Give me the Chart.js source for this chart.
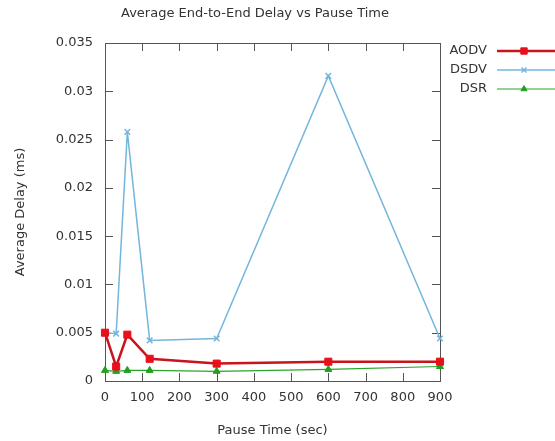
<!DOCTYPE html>
<html>
<head>
<meta charset="utf-8">
<script src="https://cdn.jsdelivr.net/npm/chart.js@4"></script>
<style>
  html, body { margin: 0; padding: 0; background: #fff; }
  #wrap { width: 555px; height: 441px; }
</style>
</head>
<body>
<div id="wrap"><canvas id="grafica"></canvas></div>
<script>
// Datos (retardo medio en ms por tiempo de pausa)
const tiemposPausa = [0, 30, 60, 120, 300, 600, 900];
const retardoAODV = [0.0050, 0.0015, 0.0048, 0.0023, 0.0018, 0.0020, 0.0020];
const retardoDSDV = [0.0050, 0.0049, 0.0258, 0.0042, 0.0044, 0.0316, 0.0044];
const retardoDSR = [0.0011, 0.0010, 0.0011, 0.0011, 0.0010, 0.0012, 0.0015];

const ticksX = [0, 100, 200, 300, 400, 500, 600, 700, 800, 900];
const ticksY = [0, 0.005, 0.01, 0.015, 0.02, 0.025, 0.03, 0.035];

const titulo = 'Average End-to-End Delay vs Pause Time';
const fuente = 'DejaVu Sans';
const colorTexto = '#333';

function aPuntos(valores) {
    return tiemposPausa.map((t, i) => ({ x: t, y: valores[i] }));
}

// Marco, marcas hacia dentro, título y leyenda al estilo gnuplot
const estiloGnuplot = {
    id: 'estiloGnuplot',
    beforeDatasetsDraw(chart) {
        const { ctx, chartArea: a, scales } = chart;
        const largo = 8;
        ctx.save();
        ctx.strokeStyle = '#555';
        ctx.lineWidth = 1;
        ctx.beginPath();
        ticksX.forEach(v => {
            const px = Math.round(scales.x.getPixelForValue(v)) + 0.5;
            ctx.moveTo(px, a.bottom); ctx.lineTo(px, a.bottom - largo);
            ctx.moveTo(px, a.top); ctx.lineTo(px, a.top + largo);
        });
        ticksY.forEach(v => {
            const py = Math.round(scales.y.getPixelForValue(v)) + 0.5;
            ctx.moveTo(a.left, py); ctx.lineTo(a.left + largo, py);
            ctx.moveTo(a.right, py); ctx.lineTo(a.right - largo, py);
        });
        ctx.stroke();
        ctx.strokeRect(Math.round(a.left) + 0.5, Math.round(a.top) + 0.5,
            Math.round(a.right - a.left), Math.round(a.bottom - a.top));
        ctx.restore();
    },
    afterDraw(chart) {
        const { ctx } = chart;
        ctx.save();
        ctx.fillStyle = colorTexto;
        ctx.font = '13px "' + fuente + '"';
        ctx.textAlign = 'center';
        ctx.textBaseline = 'middle';
        ctx.fillText(titulo, 255, 14);

        ctx.textAlign = 'right';
        chart.data.datasets.forEach((ds, i) => {
            const y = 51 + i * 19;
            ctx.fillStyle = colorTexto;
            ctx.fillText(ds.label, 487, y);
            ctx.strokeStyle = ds.borderColor;
            ctx.lineWidth = ds.borderWidth;
            ctx.beginPath();
            ctx.moveTo(497, y); ctx.lineTo(555, y);
            ctx.stroke();
            ctx.fillStyle = ds.pointBackgroundColor;
            ctx.strokeStyle = ds.pointBorderColor;
            ctx.lineWidth = ds.pointBorderWidth;
            Chart.helpers.drawPoint(ctx, {
                pointStyle: ds.pointStyle,
                radius: ds.pointRadius - 0.5,
                borderWidth: ds.pointBorderWidth,
                rotation: 0
            }, 524, y);
        });
        ctx.restore();
    }
};

function crearGrafica() {
    const ctx = document.getElementById('grafica').getContext('2d');
    new Chart(ctx, {
        type: 'line',
        data: {
            datasets: [
                {
                    label: 'AODV',
                    data: aPuntos(retardoAODV),
                    borderColor: '#c8141e',
                    borderWidth: 2.5,
                    pointStyle: 'rect',
                    pointRadius: 5,
                    pointBackgroundColor: '#e8101a',
                    pointBorderColor: '#e8101a',
                    pointBorderWidth: 1,
                    tension: 0
                },
                {
                    label: 'DSDV',
                    data: aPuntos(retardoDSDV),
                    borderColor: '#74b6dc',
                    borderWidth: 1.5,
                    pointStyle: 'crossRot',
                    pointRadius: 4,
                    pointBackgroundColor: '#74b6dc',
                    pointBorderColor: '#74b6dc',
                    pointBorderWidth: 1.5,
                    tension: 0
                },
                {
                    label: 'DSR',
                    data: aPuntos(retardoDSR),
                    borderColor: '#2aa52a',
                    borderWidth: 1.2,
                    pointStyle: 'triangle',
                    pointRadius: 4,
                    pointBackgroundColor: '#22a022',
                    pointBorderColor: '#22a022',
                    pointBorderWidth: 1,
                    tension: 0
                }
            ]
        },
        options: {
            responsive: true,
            maintainAspectRatio: false,
            animation: false,
            clip: false,
            layout: { padding: { top: 43, right: 115, bottom: 0, left: 0 } },
            plugins: {
                legend: { display: false },
                title: { display: false },
                tooltip: { enabled: false }
            },
            scales: {
                x: {
                    type: 'linear',
                    min: 0,
                    max: 900,
                    afterFit: s => { s.height = 60; },
                    afterBuildTicks: s => { s.ticks = ticksX.map(v => ({ value: v })); },
                    grid: { display: false, drawTicks: false },
                    border: { display: false },
                    ticks: {
                        color: colorTexto,
                        font: { family: fuente, size: 13 },
                        padding: 9,
                        maxRotation: 0,
                        callback: v => String(v)
                    },
                    title: {
                        display: true,
                        text: 'Pause Time (sec)',
                        color: colorTexto,
                        font: { family: fuente, size: 13 },
                        padding: { top: 0, bottom: 3 }
                    }
                },
                y: {
                    min: 0,
                    max: 0.035,
                    afterFit: s => { s.width = 105; },
                    afterBuildTicks: s => { s.ticks = ticksY.map(v => ({ value: v })); },
                    grid: { display: false, drawTicks: false },
                    border: { display: false },
                    ticks: {
                        color: colorTexto,
                        font: { family: fuente, size: 13 },
                        padding: 12,
                        callback: v => String(Number(v.toFixed(3)))
                    },
                    title: {
                        display: true,
                        text: 'Average Delay (ms)',
                        color: colorTexto,
                        font: { family: fuente, size: 13 },
                        padding: { top: 13, bottom: 0 }
                    }
                }
            }
        },
        plugins: [estiloGnuplot]
    });
}

document.addEventListener('DOMContentLoaded', crearGrafica);
</script>
</body>
</html>
